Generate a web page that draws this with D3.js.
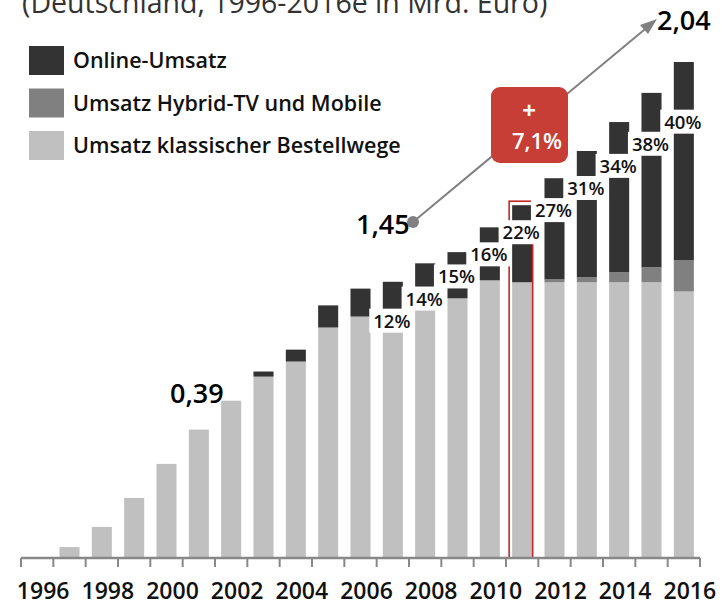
<html>
<head>
<script src="https://d3js.org/d3.v7.min.js"></script>
<style>
  body { margin:0; background:#fff; }
  text { font-family:"Open Sans", sans-serif; }
</style>
</head>
<body>
<svg id="plot"></svg>
<script>

// data (Mrd. Euro)
var years = [1996,1997,1998,1999,2000,2001,2002,2003,2004,2005,2006,
             2007,2008,2009,2010,2011,2012,2013,2014,2015,2016];
var klassisch = [0,0.045,0.128,0.247,0.387,0.528,0.647,0.746,0.808,0.948,0.993,
                 1.0,1.042,1.068,1.142,1.134,1.134,1.134,1.134,1.134,1.096];
var hybrid = [0,0,0,0,0,0,0,0,0,0,0,
              0,0,0,0,0,0.012,0.021,0.041,0.062,0.128];
var online = [0,0,0,0,0,0,0,0.021,0.049,0.091,0.115,
              0.136,0.17,0.19,0.218,0.317,0.416,0.519,0.618,0.717,0.816];
var shareYears = [2007,2008,2009,2010,2011,2012,2013,2014,2015,2016];
var shareLabels = ["12%","14%","15%","16%","22%","27%","31%","34%","38%","40%"];
var tickYears = [1996,1998,2000,2002,2004,2006,2008,2010,2012,2014,2016];
var seriesNames = ["Online-Umsatz","Umsatz Hybrid-TV und Mobile","Umsatz klassischer Bestellwege"];
var colors = ["#333333","#808080","#c0c0c0"];

var screen = {width:722, height:603};

var svg = d3.select("#plot")
    .attr("width",screen.width)
    .attr("height",screen.height);

//scales
var xScale = d3.scaleBand()
    .domain(years)
    .range([21,700])
    .paddingInner(0.38)
    .paddingOuter(0.19);

var yScale = d3.scaleLinear()
    .domain([0,2.04])
    .range([558,62]);

//stack the three series
var table = years.map(function(y,i){
    return {year:y, klassisch:klassisch[i], hybrid:hybrid[i], online:online[i]};
});
var stack = d3.stack().keys(["klassisch","hybrid","online"]);
var layers = stack(table);
var layerColor = {klassisch:colors[2], hybrid:colors[1], online:colors[0]};

//title (cut off at the top)
svg.append("text")
    .text("(Deutschland, 1996-2016e in Mrd. Euro)")
    .attr("x",22)
    .attr("y",13)
    .attr("fill","#333")
    .style("font-size","28.5px");

//bars
svg.append("g")
    .selectAll("g")
    .data(layers)
    .enter()
    .append("g")
    .attr("fill",function(d){ return layerColor[d.key]; })
    .selectAll("rect")
    .data(function(d){ return d; })
    .enter()
    .append("rect")
    .attr("x",function(d){ return xScale(d.data.year); })
    .attr("width",xScale.bandwidth())
    .attr("y",function(d){ return yScale(d[1]); })
    .attr("height",function(d){ return yScale(d[0])-yScale(d[1]); });

//red outline on 2011
var i2011 = years.indexOf(2011);
var top2011 = klassisch[i2011]+hybrid[i2011]+online[i2011];
svg.append("rect")
    .attr("x",xScale(2011)-3)
    .attr("y",yScale(top2011)-4)
    .attr("width",xScale.bandwidth()+3.5)
    .attr("height",yScale(0)-yScale(top2011)+4)
    .attr("fill","none")
    .attr("stroke","#c62828")
    .attr("stroke-width",1.6);

//axis
var axis = svg.append("g");
axis.append("line")
    .attr("x1",xScale.range()[0]).attr("x2",xScale.range()[1])
    .attr("y1",yScale(0)).attr("y2",yScale(0))
    .attr("stroke","#888").attr("stroke-width",2.5);
var edges = years.map(function(y){ return xScale(y)-xScale.step()*xScale.paddingInner()/2; });
edges.push(xScale.range()[1]);
axis.selectAll(".tick")
    .data(edges)
    .enter()
    .append("line")
    .attr("x1",function(d){ return d; }).attr("x2",function(d){ return d; })
    .attr("y1",yScale(0)).attr("y2",yScale(0)+9)
    .attr("stroke","#888").attr("stroke-width",2);
axis.selectAll(".yl")
    .data(tickYears)
    .enter()
    .append("text")
    .text(function(d){ return d; })
    .attr("x",function(d){ return xScale(d)+xScale.bandwidth()/2+6; })
    .attr("y",599)
    .attr("text-anchor","middle")
    .style("font-size","23px")
    .style("font-weight","600")
    .attr("fill","#111");

//share labels on a diagonal
var labelY = d3.scaleLinear().domain([2007,2016]).range([321,122]);
var shares = svg.append("g")
    .selectAll("g")
    .data(shareYears)
    .enter()
    .append("g");
shares.append("text")
    .text(function(d,i){ return shareLabels[i]; })
    .attr("x",function(d){ return xScale(d)+xScale.bandwidth()/2-1; })
    .attr("y",function(d){ return labelY(d); })
    .attr("dy","0.36em")
    .attr("text-anchor","middle")
    .style("font-size","18.5px")
    .style("font-weight","600")
    .attr("fill","#111");
shares.each(function(){
    var g = d3.select(this);
    var b = g.select("text").node().getBBox();
    g.insert("rect","text")
        .attr("x",b.x-4).attr("y",b.y+1)
        .attr("width",b.width+7).attr("height",b.height-1)
        .attr("fill","#fff");
});

//annotations
var notes = svg.append("g");
notes.append("line")
    .attr("x1",413).attr("y1",222)
    .attr("x2",650).attr("y2",25)
    .attr("stroke","#808080").attr("stroke-width",2);
notes.append("path")
    .attr("d",d3.line()([[657,19],[640,25],[648,34]]))
    .attr("fill","#808080");
notes.append("circle")
    .attr("cx",413).attr("cy",222).attr("r",6)
    .attr("fill","#808080");

notes.append("rect")
    .attr("x",491).attr("y",87)
    .attr("width",77).attr("height",76)
    .attr("rx",9)
    .attr("fill","#c63e36");
notes.append("text")
    .text("+")
    .attr("x",529).attr("y",119)
    .attr("text-anchor","middle")
    .attr("fill","#fff")
    .style("font-size","24px")
    .style("font-weight","700");
notes.append("text")
    .text("7,1%")
    .attr("x",537).attr("y",149)
    .attr("text-anchor","middle")
    .attr("fill","#fff")
    .style("font-size","22px")
    .style("font-weight","600");

var bigLabels = [
    {t:"2,04", x:657, y:30},
    {t:"1,45", x:356, y:234},
    {t:"0,39", x:170, y:403}
];
notes.selectAll(".big")
    .data(bigLabels)
    .enter()
    .append("text")
    .text(function(d){ return d.t; })
    .attr("x",function(d){ return d.x; })
    .attr("y",function(d){ return d.y; })
    .attr("fill","#000")
    .style("font-size","27px")
    .style("font-weight","600");

//legend
var legend = svg.append("g")
    .selectAll("g")
    .data(seriesNames)
    .enter()
    .append("g")
    .attr("transform",function(d,i){ return "translate(29,"+(46+i*42.5)+")"; });
legend.append("rect")
    .attr("width",35).attr("height",29)
    .attr("fill",function(d,i){ return colors[i]; });
legend.append("text")
    .text(function(d){ return d; })
    .attr("x",44)
    .attr("y",14.5)
    .attr("dy","0.36em")
    .style("font-size","21.5px")
    .style("font-weight","600")
    .attr("fill","#111");

</script>
</body>
</html>
